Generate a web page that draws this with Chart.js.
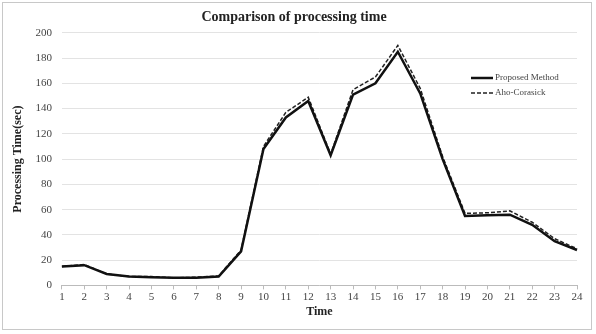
<!DOCTYPE html>
<html>
<head>
<meta charset="utf-8">
<script src="https://cdn.jsdelivr.net/npm/chart.js@4"></script>
<style>
  html, body { margin: 0; padding: 0; background: #fff; }
  #wrap { position: absolute; left: 2px; top: 2px; width: 590px; height: 328px; border: 1px solid #c8c8c8; box-sizing: border-box; }
</style>
</head>
<body>
<div id="wrap"><canvas id="chart" width="588" height="326"></canvas></div>
<script>
const labels = ['1','2','3','4','5','6','7','8','9','10','11','12','13','14','15','16','17','18','19','20','21','22','23','24'];
const proposed = [15, 16, 9, 7, 6.5, 6, 6, 7, 27, 108, 133, 146, 103, 151, 160, 185, 152, 100, 55, 55.5, 56, 48, 35, 28];
const ahoCorasick = [15, 16.5, 9, 7, 7, 6, 6.5, 7.5, 28, 110, 137, 149, 104, 155, 165, 190, 156, 102, 57, 57.5, 59, 50, 37, 29];
const yTicks = [0, 20, 40, 60, 80, 100, 120, 140, 160, 180, 200];

const serif = '"Liberation Serif", "DejaVu Serif", serif';

// legend drawn inside the plot, right side
const insideLegend = {
  id: 'insideLegend',
  afterDraw(chart) {
    const ctx = chart.ctx;
    const x0 = 468, y0 = 75;
    chart.data.datasets.forEach((ds, i) => {
      const y = y0 + i * 15;
      ctx.save();
      ctx.strokeStyle = ds.borderColor;
      ctx.lineWidth = ds.borderWidth;
      ctx.setLineDash(ds.borderDash || []);
      ctx.beginPath();
      ctx.moveTo(x0, y);
      ctx.lineTo(x0 + 22, y);
      ctx.stroke();
      ctx.setLineDash([]);
      ctx.fillStyle = '#444';
      ctx.font = '9px ' + serif;
      ctx.textBaseline = 'middle';
      ctx.fillText(ds.label, x0 + 24, y);
      ctx.restore();
    });
  }
};

new Chart(document.getElementById('chart'), {
  type: 'line',
  data: {
    labels: labels,
    datasets: [
      {
        label: 'Proposed Method',
        data: proposed,
        borderColor: '#111',
        borderWidth: 2.5,
        pointRadius: 0,
        tension: 0
      },
      {
        label: 'Aho-Corasick',
        data: ahoCorasick,
        borderColor: '#222',
        borderWidth: 1.5,
        borderDash: [4, 2],
        pointRadius: 0,
        tension: 0
      }
    ]
  },
  options: {
    responsive: false,
    animation: false,
    layout: { padding: { left: 8, right: 14, top: 0, bottom: 10 } },
    plugins: {
      legend: { display: false },
      tooltip: { enabled: false },
      title: {
        display: true,
        text: 'Comparison of processing time',
        color: '#222',
        font: { family: serif, size: 14, weight: 'bold' },
        padding: { top: 6, bottom: 7 }
      }
    },
    scales: {
      x: {
        grid: { display: true, drawOnChartArea: false, drawTicks: true, tickLength: 4, color: '#bbb' },
        border: { color: '#bbb' },
        ticks: { color: '#444', font: { family: serif, size: 11 }, padding: 1 },
        title: {
          display: true,
          text: 'Time',
          color: '#222',
          font: { family: serif, size: 12, weight: 'bold' },
          padding: { top: 0, bottom: 0 }
        }
      },
      y: {
        min: 0,
        max: 200,
        afterBuildTicks: axis => { axis.ticks = yTicks.map(v => ({ value: v })); },
        grid: { color: '#e3e3e3', drawTicks: false },
        border: { display: false },
        ticks: { color: '#444', font: { family: serif, size: 11 }, padding: 10 },
        title: {
          display: true,
          text: 'Processing Time(sec)',
          color: '#222',
          font: { family: serif, size: 12, weight: 'bold' },
          padding: { top: 0, bottom: 0 }
        }
      }
    }
  },
  plugins: [insideLegend]
});
</script>
</body>
</html>
